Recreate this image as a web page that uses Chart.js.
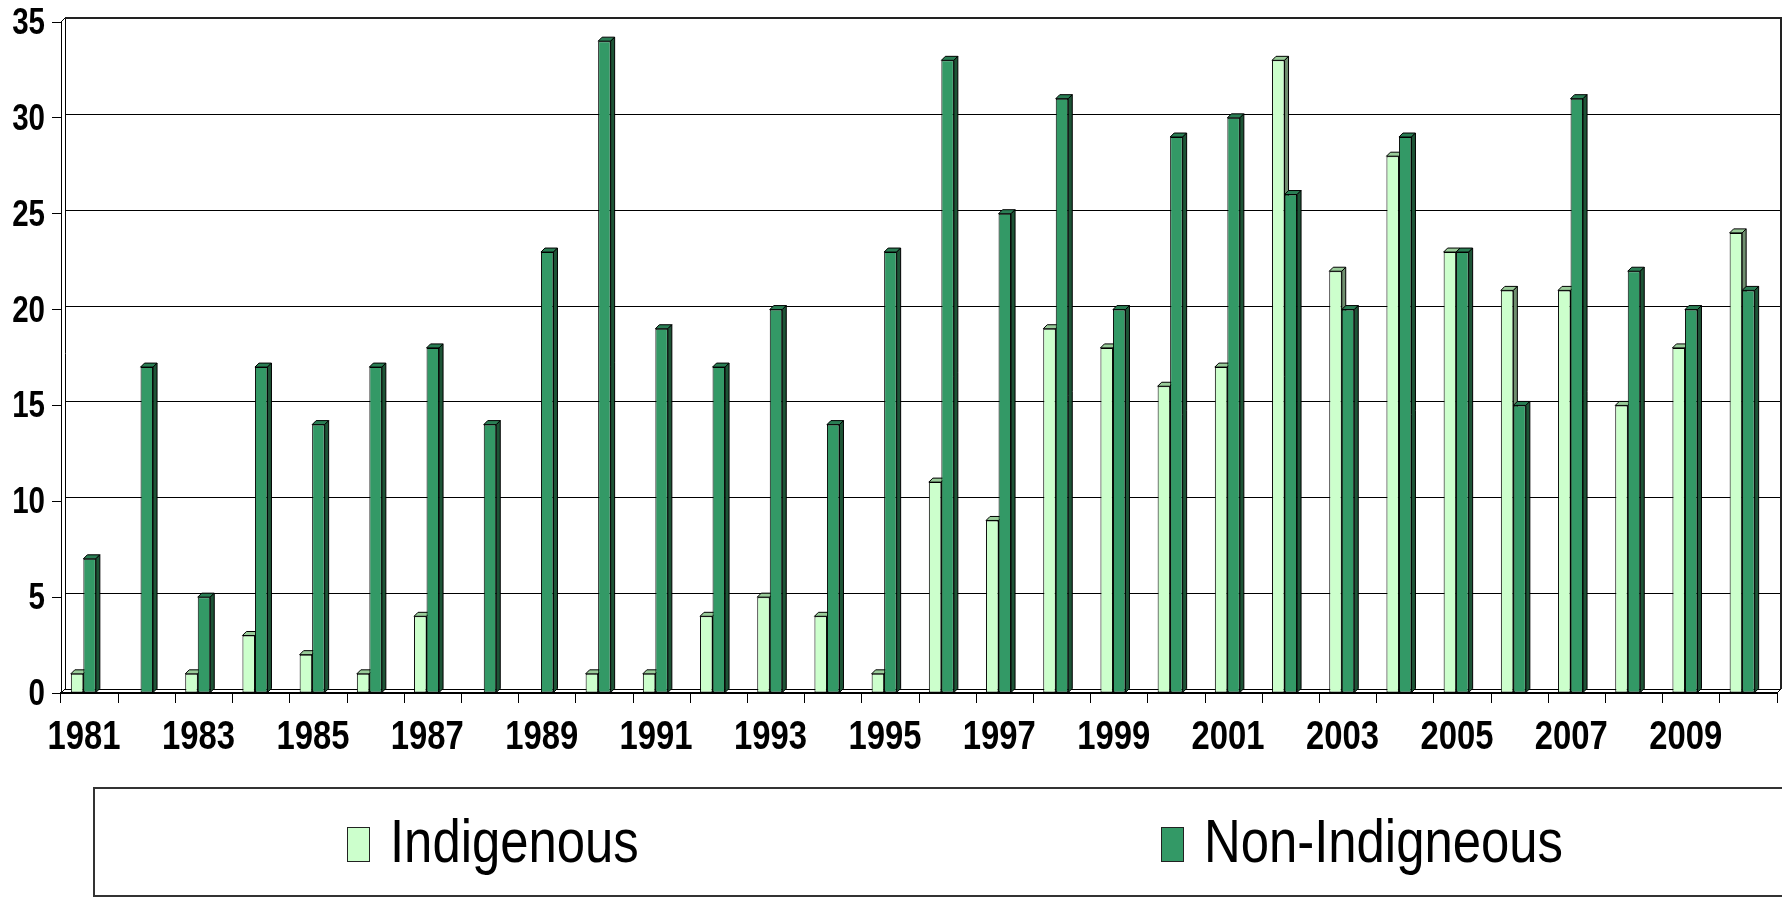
<!DOCTYPE html>
<html>
<head>
<meta charset="utf-8">
<script src="https://cdn.jsdelivr.net/npm/chart.js@4.4.1/dist/chart.umd.min.js"></script>
<style>
html, body { margin: 0; padding: 0; background: #fff; }
body { width: 1782px; height: 900px; position: relative; overflow: hidden;
       font-family: "Liberation Sans", Arial, sans-serif; }
#wrap { position: absolute; left: 0; top: 0; width: 1782px; height: 788px; }
#legend { position: absolute; left: 93px; top: 787px; width: 1720px; height: 106px;
          border: 2px solid #333; background: #fff; }
.sw { position: absolute; top: 38px; width: 21px; height: 33px; border: 1px solid #222; }
.lbl { position: absolute; top: 21px; font-size: 62px; line-height: 62px; white-space: nowrap; color: #000;
       transform: scaleX(0.82); transform-origin: 0 0; }
</style>
</head>
<body>
<div id="wrap"><canvas id="chart" width="1782" height="788" style="width:1782px;height:788px"></canvas></div>
<div id="legend">
  <div class="sw" style="left:252px;background:#CCFFCC"></div>
  <div class="lbl" style="left:295px">Indigenous</div>
  <div class="sw" style="left:1066px;background:#339966"></div>
  <div class="lbl" style="left:1109px">Non-Indigneous</div>
</div>
<script>
// values
const years = ['1981', '1982', '1983', '1984', '1985', '1986', '1987', '1988', '1989', '1990',
               '1991', '1992', '1993', '1994', '1995', '1996', '1997', '1998', '1999', '2000',
               '2001', '2002', '2003', '2004', '2005', '2006', '2007', '2008', '2009', '2010'];
const indigenous = [1, 0, 1, 3, 2, 1, 4, 0, 0, 1, 1, 4, 5, 4, 1, 11, 9, 19, 18, 16,
                    17, 33, 22, 28, 23, 21, 21, 15, 18, 24];
const nonIndigenous = [7, 17, 5, 17, 14, 17, 18, 14, 23, 34, 19, 17, 20, 14, 23, 33, 25, 31, 20, 29,
                       30, 26, 20, 29, 23, 15, 31, 22, 20, 21];
const yMax = 35;
const yStep = 5;

const FONT = '"Liberation Sans", Arial, sans-serif';
const NARROW = 0.82; // the original uses a narrow face; squeeze the regular one
const DEPTH = 4;     // fake 3D depth of the old spreadsheet chart

function face(ctx, pts, fill) {
    ctx.beginPath();
    ctx.moveTo(pts[0][0], pts[0][1]);
    for (let i = 1; i < pts.length; i++) ctx.lineTo(pts[i][0], pts[i][1]);
    ctx.closePath();
    ctx.fillStyle = fill;
    ctx.fill();
    ctx.stroke();
}

function line(ctx, x1, y1, x2, y2) {
    ctx.beginPath();
    ctx.moveTo(x1, y1);
    ctx.lineTo(x2, y2);
    ctx.stroke();
}

function narrowText(ctx, text, x, y) {
    ctx.save();
    ctx.translate(x, y);
    ctx.scale(NARROW, 1);
    ctx.fillText(text, 0, 0);
    ctx.restore();
}

// top and side faces of each bar, taken from the bar elements
function drawBarDepth(chart, index, topColor, sideColor) {
    const meta = chart.getDatasetMeta(index);
    const values = chart.data.datasets[index].data;
    const ctx = chart.ctx;
    ctx.save();
    ctx.lineWidth = 1;
    ctx.strokeStyle = '#000';
    meta.data.forEach((bar, i) => {
        if (!values[i]) return;
        const l = bar.x - bar.width / 2;
        const r = bar.x + bar.width / 2;
        const t = bar.y;
        const b = bar.base;
        face(ctx, [[l, t], [l + DEPTH, t - DEPTH], [r + DEPTH, t - DEPTH], [r, t]], topColor);
        face(ctx, [[r, t], [r + DEPTH, t - DEPTH], [r + DEPTH, b - DEPTH], [r, b]], sideColor);
    });
    ctx.restore();
}

const depthPlugin = {
    id: 'depth',
    beforeDatasetsDraw(chart) {
        // back wall with its grid lines
        const { left, right, top, bottom } = chart.chartArea;
        const y = chart.scales.y;
        const ctx = chart.ctx;
        ctx.save();
        ctx.strokeStyle = '#000';
        ctx.lineWidth = 1;
        y.ticks.forEach(t => {
            if (t.value === yMax) return;
            const py = Math.round(y.getPixelForValue(t.value) - DEPTH) + 0.5;
            line(ctx, left + DEPTH, py, right + DEPTH, py);
        });
        line(ctx, left + DEPTH + 0.5, top - DEPTH, left + DEPTH + 0.5, bottom - DEPTH);
        line(ctx, left, bottom, left + DEPTH, bottom - DEPTH);
        line(ctx, left, top, left + DEPTH, top - DEPTH);
        line(ctx, right, bottom, right + DEPTH, bottom - DEPTH);
        ctx.lineWidth = 2;
        ctx.strokeStyle = '#222';
        line(ctx, left + DEPTH, top - DEPTH, right + DEPTH, top - DEPTH);
        line(ctx, right + DEPTH, top - DEPTH - 1, right + DEPTH, bottom - DEPTH);
        ctx.restore();
    },
    beforeDatasetDraw(chart, args) {
        // datasets are drawn last to first, so do the light bars' faces before the dark fronts
        if (args.index === 1) drawBarDepth(chart, 0, '#99CC99', '#6F8F6F');
    },
    afterDatasetDraw(chart, args) {
        if (args.index === 1) drawBarDepth(chart, 1, '#2A7E54', '#1D5436');
    },
    afterDraw(chart) {
        // tick labels, squeezed to the narrow look of the original
        const ctx = chart.ctx;
        const xs = chart.scales.x;
        const ys = chart.scales.y;
        ctx.save();
        ctx.fillStyle = '#000';
        ctx.textBaseline = 'alphabetic';

        ctx.font = 'bold 40px ' + FONT;
        ctx.textAlign = 'center';
        xs.ticks.forEach((t, i) => {
            if (!t.label) return;
            narrowText(ctx, t.label, xs.getPixelForTick(i) - 5.5, xs.top + 56);
        });

        ctx.font = 'bold 36px ' + FONT;
        ctx.textAlign = 'right';
        ys.ticks.forEach((t, i) => {
            narrowText(ctx, t.label, ys.right - 16, ys.getPixelForTick(i) + 12);
        });
        ctx.restore();
    }
};

new Chart(document.getElementById('chart'), {
    type: 'bar',
    data: {
        labels: years,
        datasets: [
            {
                label: 'Indigenous',
                data: indigenous,
                backgroundColor: '#CCFFCC',
                borderColor: '#000',
                borderWidth: 1,
                borderSkipped: false
            },
            {
                label: 'Non-Indigneous',
                data: nonIndigenous,
                backgroundColor: '#339966',
                borderColor: '#000',
                borderWidth: 1,
                borderSkipped: false
            },
            {
                // empty slot: the 3D chart leaves room for depth behind each pair
                label: '',
                data: [],
                backgroundColor: 'rgba(0,0,0,0)'
            }
        ]
    },
    options: {
        responsive: false,
        animation: false,
        events: [],
        categoryPercentage: 0.656,
        barPercentage: 1.0,
        layout: { padding: { left: 0, right: 5, top: 22, bottom: 0 } },
        plugins: {
            legend: { display: false },
            tooltip: { enabled: false }
        },
        scales: {
            y: {
                min: 0,
                max: yMax,
                ticks: { stepSize: yStep, display: false },
                grid: {
                    drawOnChartArea: false,
                    drawTicks: true,
                    tickLength: 9,
                    color: '#000'
                },
                border: { display: true, color: '#000', width: 1 },
                afterFit(scale) { scale.width = 61; }
            },
            x: {
                ticks: {
                    autoSkip: false,
                    maxRotation: 0,
                    minRotation: 0,
                    display: false,
                    callback: function (value, index) {
                        return index % 2 === 0 ? this.getLabelForValue(value) : '';
                    }
                },
                grid: {
                    drawOnChartArea: false,
                    offset: true,
                    tickLength: 10,
                    color: '#000'
                },
                border: { display: true, color: '#000', width: 2 },
                afterFit(scale) { scale.height = 95; }
            }
        }
    },
    plugins: [depthPlugin]
});
</script>
</body>
</html>
